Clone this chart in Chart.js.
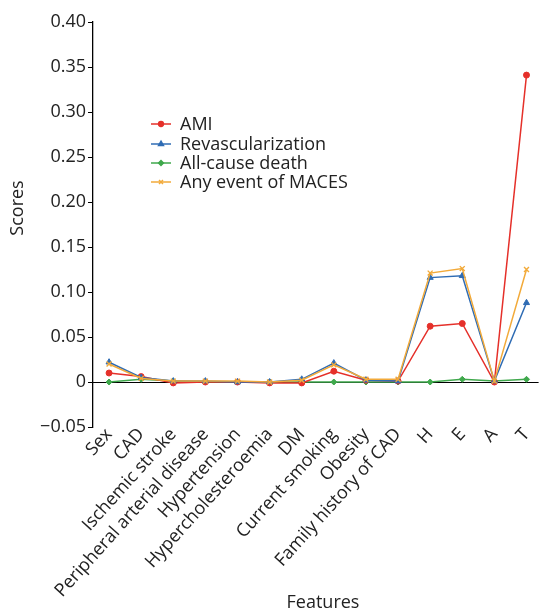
<!DOCTYPE html>
<html>
<head>
<meta charset="utf-8">
<script src="https://cdn.jsdelivr.net/npm/chart.js@4.4.1/dist/chart.umd.min.js"></script>
<style>
html,body{margin:0;padding:0;background:#fff;}
#wrap{width:544px;height:613px;position:relative;}
</style>
</head>
<body>
<div id="wrap"><canvas id="c" width="544" height="613"></canvas></div>
<script>
const features = ["Sex","CAD","Ischemic stroke","Peripheral arterial disease","Hypertension","Hypercholesteroemia","DM","Current smoking","Obesity","Family history of CAD","H","E","A","T"];
const ami      = [0.010, 0.006, -0.001, 0.000, 0.000, -0.001, -0.001, 0.012, 0.002, 0.001, 0.062, 0.065, 0.000, 0.341];
const revasc   = [0.022, 0.005, 0.001, 0.001, 0.000, 0.000, 0.003, 0.021, 0.002, 0.001, 0.116, 0.118, 0.001, 0.088];
const allcause = [0.000, 0.003, 0.001, 0.000, 0.000, 0.000, 0.000, 0.000, 0.000, 0.000, 0.000, 0.003, 0.001, 0.003];
const anyEvent = [0.020, 0.004, 0.001, 0.001, 0.001, 0.000, 0.002, 0.019, 0.003, 0.003, 0.121, 0.126, 0.001, 0.125];
const seriesNames = ["AMI","Revascularization","All-cause death","Any event of MACES"];
const yTicks = [-0.05,0,0.05,0.10,0.15,0.20,0.25,0.30,0.35,0.40];
const xTitle = "Features";
const yTitle = "Scores";

const colors = ["#e5302a","#2f6cb4","#3fa84c","#f2aa3a"];
const styles = ["circle","triangle","rectRot","crossRot"];
const radii = [3,3.5,3,3.5];
const FONT = "'Open Sans', 'Noto Sans', sans-serif";
const TXT = "#222";

function pts(arr){ return arr.map((v,i)=>({x:i,y:v})); }
const allSeries=[ami,revasc,allcause,anyEvent];

const datasets = allSeries.map((arr,k)=>({
  label: seriesNames[k],
  data: pts(arr),
  borderColor: colors[k],
  backgroundColor: colors[k],
  pointStyle: styles[k],
  pointRadius: radii[k],
  pointBorderWidth: k===3?1.4:1,
  borderWidth: 1.5,
  tension: 0
}));
datasets[2].order = 4; datasets[0].order=3; datasets[1].order=2; datasets[3].order=1;

const zeroLine = {
  id:'zeroLine',
  beforeDatasetsDraw(chart){
    const {ctx, chartArea, scales} = chart;
    const y = Math.round(scales.y.getPixelForValue(0));
    ctx.save();
    ctx.strokeStyle='#000'; ctx.lineWidth=1;
    ctx.beginPath(); ctx.moveTo(chartArea.left, y+0.5); ctx.lineTo(chartArea.right, y+0.5); ctx.stroke();
    ctx.restore();
  }
};

const extras = {
  id:'extras',
  afterDraw(chart){
    const ctx = chart.ctx;
    const x0 = 151, x1 = 171, tx = 180;
    const ys = [124,144,163,182];
    ctx.save();
    ctx.font = "18px " + FONT;
    ctx.textBaseline='middle';
    ctx.textAlign='left';
    seriesNames.forEach((name,k)=>{
      const y = ys[k];
      ctx.strokeStyle=colors[k]; ctx.lineWidth=1.5;
      ctx.beginPath(); ctx.moveTo(x0,y); ctx.lineTo(x1,y); ctx.stroke();
      ctx.fillStyle=colors[k];
      ctx.strokeStyle=colors[k];
      Chart.helpers.drawPoint(ctx,{pointStyle:styles[k],radius:radii[k]*0.8,borderWidth:1},(x0+x1)/2,y);
      ctx.fillStyle=TXT;
      ctx.fillText(name, tx, y+1);
    });
    // axis titles
    ctx.font = "18px " + FONT;
    ctx.fillStyle = TXT;
    ctx.textAlign='center';
    ctx.textBaseline='middle';
    ctx.fillText(xTitle, 323, 603);
    ctx.translate(18, 208);
    ctx.rotate(-Math.PI/2);
    ctx.fillText(yTitle, 0, 0);
    ctx.restore();
  }
};

new Chart(document.getElementById('c'), {
  type:'line',
  data:{datasets},
  plugins:[zeroLine, extras],
  options:{
    responsive:false,
    animation:false,
    events:[],
    layout:{padding:{top:22,right:0,left:0,bottom:0}},
    plugins:{legend:{display:false},tooltip:{enabled:false}},
    scales:{
      x:{
        type:'linear',
        min:-0.50, max:13.377,
        afterFit(s){ s.height = 186; },
        afterBuildTicks(s){ s.ticks = features.map((f,i)=>({value:i})); },
        ticks:{
          autoSkip:false,
          minRotation:48, maxRotation:48,
          font:{family:FONT,size:18},
          color:TXT,
          padding:-3,
          callback:(v)=> features[v] !== undefined && Number.isInteger(v) ? features[v] : ''
        },
        grid:{display:false, drawTicks:false},
        border:{display:false}
      },
      y:{
        min:-0.05, max:0.40,
        afterFit(s){ s.width = 93; },
        afterBuildTicks(s){ s.ticks = yTicks.map(v=>({value:v})); },
        ticks:{
          font:{family:FONT,size:18},
          color:TXT,
          padding:2,
          callback:(v)=> v===0 ? '0' : (v<0 ? '\u22120.05' : v.toFixed(2))
        },
        grid:{drawOnChartArea:false, drawTicks:true, tickLength:5, color:'#000'},
        border:{display:true,color:'#000',width:1.3}
      }
    }
  }
});
</script>
</body>
</html>
